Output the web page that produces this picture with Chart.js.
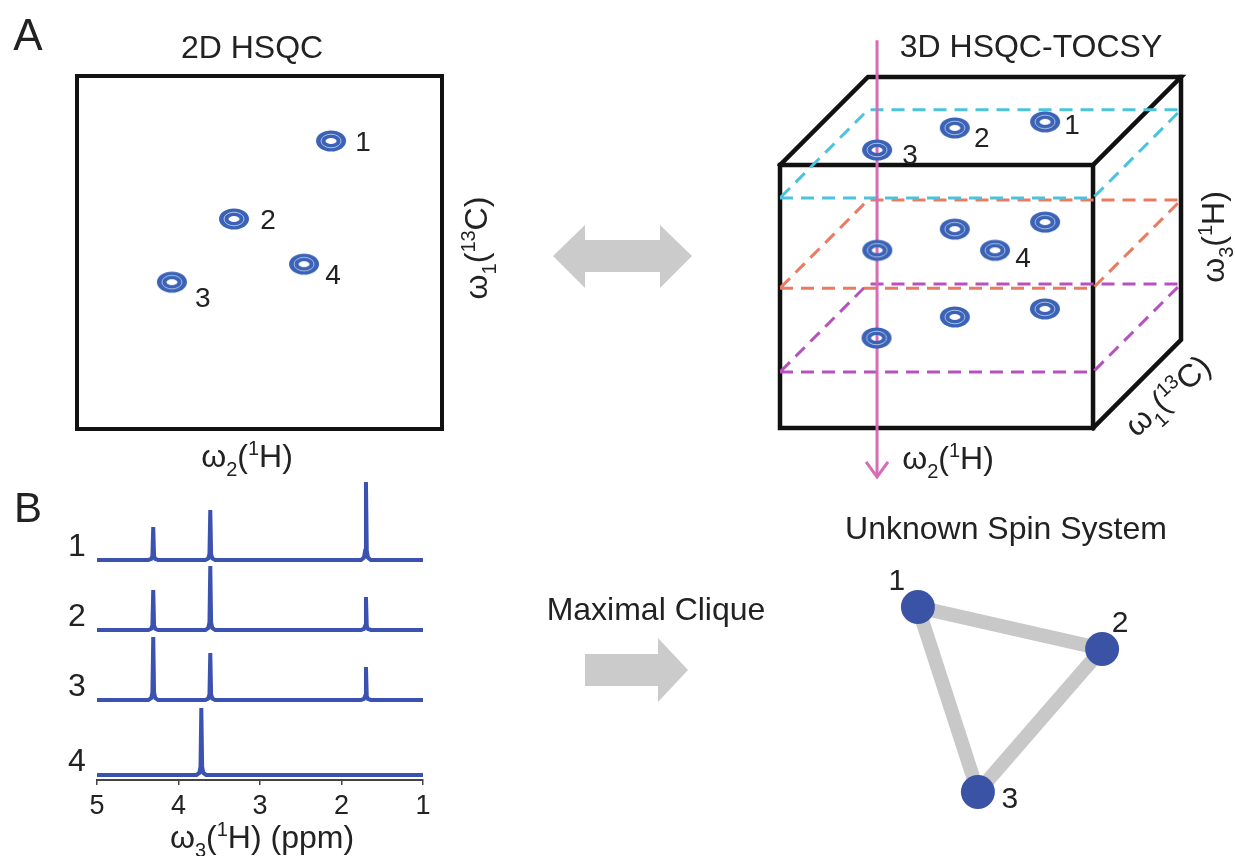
<!DOCTYPE html>
<html>
<head>
<meta charset="utf-8">
<script src="https://cdn.jsdelivr.net/npm/chart.js@4.4.1/dist/chart.umd.min.js"></script>
<style>
  html, body { margin: 0; padding: 0; background: #fff; }
  #page { position: relative; width: 1235px; height: 856px; overflow: hidden; background: #fff; }
  canvas { position: absolute; }
</style>
</head>
<body>
<div id="page">
  <canvas id="hsqc"  width="500" height="480" style="left:0;top:0"></canvas>
  <canvas id="flow"  width="280" height="540" style="left:520px;top:200px"></canvas>
  <canvas id="cube"  width="495" height="500" style="left:740px;top:0"></canvas>
  <canvas id="spec"  width="450" height="386" style="left:0;top:470px"></canvas>
  <canvas id="graph" width="395" height="340" style="left:840px;top:500px"></canvas>
</div>
<script>
var FONT = '"Liberation Sans", Arial, Helvetica, sans-serif';
var INK = '#222';

// ---- panel A, 2D HSQC (relative units, 0-100) ----
var hsqcLabels = ['1', '2', '3', '4'];
var hsqcH = [69.6, 43.0, 26.0, 62.2];
var hsqcC = [81.6, 59.5, 41.6, 46.7];
var hsqcLabelOffsets = [[32, 0], [34, 0], [31, 15], [29, 10]];

// ---- panel A, 3D HSQC-TOCSY (unit cube: w2 across, w1 depth, w3 up) ----
var planeLevels = [0.875, 0.532, 0.213];
var planeColors = ['#4cc3dc', '#ea7a60', '#b651bd'];
var tocsyPlane  = [0, 0, 0, 1, 1, 1, 1, 2, 2, 2];
var tocsyW2     = [0.157, 0.335, 0.604, 0.19, 0.37, 0.636, 0.566, 0.20, 0.383, 0.645];
var tocsyW1     = [0.545, 0.795, 0.864, 0.43, 0.67, 0.75, 0.43, 0.386, 0.625, 0.716];
var tocsyLabels = ['3', '2', '1', '', '', '', '4', '', '', ''];
var tocsyLabelOffsets = {'1': [27, 2], '2': [27, 9], '3': [33, 4], '4': [28, 7]};
var TRACE_X = 0.31, TRACE_TOP = 1.475, TRACE_BOTTOM = -0.186;
var DX = 0.281, DY = 0.335;   // oblique projection of the w1 depth

// ---- panel B, 1D traces ----
var ppmTicks = [5, 4, 3, 2, 1];
var spinNames = ['1', '2', '3', '4'];
var spinOffsets = [22, 15, 8, 0.5];
var spinPeakPpm    = [[4.31, 3.61, 1.70], [4.31, 3.61, 1.70], [4.31, 3.61, 1.70], [3.72]];
var spinPeakHeight = [[3.3, 5.0, 7.8], [4.0, 6.4, 3.3], [6.3, 4.7, 3.3], [6.7]];

// ---- panel B, spin system graph ----
var nodeNames = ['1', '2', '3'];
var nodeX = [1.93, 8.07, 3.93];
var nodeY = [8.19, 6.58, 1.08];
var edges = [[0, 1], [1, 2], [2, 0]];
var nodeLabelOffsets = [[-21, -28], [18, -28], [32, 5]];

// rich text: "ω_{2}(^{1}H)"
function drawRich(ctx, str, cx, cy, size, angle, color) {
  var small = Math.round(size * 0.62);
  var re = /(_|\^)\{([^}]*)\}|([^_^]+)/g, m, segs = [], w = 0;
  ctx.save();
  while ((m = re.exec(str)) !== null) {
    var mode = m[1] === '_' ? 'sub' : (m[1] === '^' ? 'sup' : '');
    var t = mode ? m[2] : m[3];
    var f = (mode ? small : size) + 'px ' + FONT;
    ctx.font = f;
    var sw = ctx.measureText(t).width;
    segs.push({t: t, mode: mode, f: f, sw: sw});
    w += sw;
  }
  ctx.translate(cx, cy);
  ctx.rotate(angle || 0);
  ctx.fillStyle = color || INK;
  ctx.textAlign = 'left';
  ctx.textBaseline = 'alphabetic';
  var x = -w / 2, base = size * 0.36;
  segs.forEach(function (s) {
    ctx.font = s.f;
    var dy = s.mode === 'sub' ? size * 0.3 : (s.mode === 'sup' ? -size * 0.36 : 0);
    ctx.fillText(s.t, x, base + dy);
    x += s.sw;
  });
  ctx.restore();
}

function makeGlyph(color) {
  var c = document.createElement('canvas');
  c.width = 34; c.height = 24;
  var g = c.getContext('2d');
  g.fillStyle = color;
  g.beginPath(); g.ellipse(17, 12, 15, 10.5, 0, 0, 2 * Math.PI); g.fill();
  g.strokeStyle = 'rgba(255,255,255,0.6)';
  g.lineWidth = 1;
  g.beginPath(); g.ellipse(17, 12, 10, 6.8, 0, 0, 2 * Math.PI); g.stroke();
  g.globalCompositeOperation = 'destination-out';
  g.beginPath(); g.ellipse(17, 12, 5.5, 3, 0, 0, 2 * Math.PI); g.fill();
  return c;
}

function textLayer(fn) {
  return { id: 'textLayer', afterDatasetsDraw: function (chart) { fn(chart, chart.ctx); } };
}

function baseOptions(padding) {
  return {
    responsive: false, animation: false, events: [], devicePixelRatio: 1,
    layout: { padding: padding },
    plugins: { legend: { display: false }, tooltip: { enabled: false } }
  };
}

var glyph = makeGlyph('#3a62b6');

// ---------- 2D HSQC ----------
var hsqcOpts = baseOptions({left: 77, top: 76, right: 58, bottom: 51});
hsqcOpts.scales = { x: {display: false, min: 0, max: 100}, y: {display: false, min: 0, max: 100} };
new Chart(document.getElementById('hsqc'), {
  type: 'scatter',
  data: { datasets: [{
    data: hsqcH.map(function (x, i) { return {x: x, y: hsqcC[i]}; }),
    pointStyle: glyph, pointRadius: 15, clip: false
  }] },
  options: hsqcOpts,
  plugins: [{
    id: 'frame',
    beforeDatasetsDraw: function (chart) {
      var a = chart.chartArea, ctx = chart.ctx;
      ctx.save(); ctx.strokeStyle = '#111'; ctx.lineWidth = 4;
      ctx.strokeRect(a.left, a.top, a.right - a.left, a.bottom - a.top);
      ctx.restore();
    }
  }, textLayer(function (chart, ctx) {
    var sx = chart.scales.x, sy = chart.scales.y;
    hsqcLabels.forEach(function (l, i) {
      drawRich(ctx, l, sx.getPixelForValue(hsqcH[i]) + hsqcLabelOffsets[i][0],
        sy.getPixelForValue(hsqcC[i]) + hsqcLabelOffsets[i][1], 28);
    });
    drawRich(ctx, 'A', 28, 34, 44);
    drawRich(ctx, '2D HSQC', 252, 46, 32);
    drawRich(ctx, 'ω_{2}(^{1}H)', 247, 455, 32);
    drawRich(ctx, 'ω_{1}(^{13}C)', 475, 248, 32, -Math.PI / 2);
  })]
});

// ---------- arrows + caption ----------
var flowOpts = baseOptions(0);
flowOpts.scales = { x: {display: false}, y: {display: false} };
new Chart(document.getElementById('flow'), {
  type: 'scatter',
  data: { datasets: [] },
  options: flowOpts,
  plugins: [textLayer(function (chart, ctx) {
    function poly(pts) {
      ctx.beginPath();
      pts.forEach(function (p, i) { if (i) ctx.lineTo(p[0] - 520, p[1] - 200); else ctx.moveTo(p[0] - 520, p[1] - 200); });
      ctx.closePath(); ctx.fill();
    }
    ctx.save();
    ctx.fillStyle = '#cbcbcb';
    poly([[553, 256], [585, 225], [585, 240], [660, 240], [660, 225], [692, 256],
          [660, 288], [660, 272], [585, 272], [585, 288]]);
    poly([[585, 654], [658, 654], [658, 638], [688, 670], [658, 702], [658, 686], [585, 686]]);
    ctx.restore();
    drawRich(ctx, 'Maximal Clique', 136, 408, 32);
  })]
});

// ---------- 3D HSQC-TOCSY ----------
function P(w2, w1, w3) { return {x: w2 + DX * w1, y: w3 + DY * w1}; }
var cubeSets = [];
cubeSets.push({
  data: tocsyW2.map(function (w2, i) { return P(w2, tocsyW1[i], planeLevels[tocsyPlane[i]]); }),
  pointStyle: glyph, pointRadius: 15, showLine: false, clip: false
});
cubeSets.push({
  data: [{x: TRACE_X, y: TRACE_TOP}, {x: TRACE_X, y: TRACE_BOTTOM}],
  showLine: true, borderColor: '#d56db5', borderWidth: 3, pointRadius: 0, clip: false
});
cubeSets.push({
  data: [{x: TRACE_X - 0.035, y: TRACE_BOTTOM + 0.057}, {x: TRACE_X, y: TRACE_BOTTOM}, {x: TRACE_X + 0.035, y: TRACE_BOTTOM + 0.057}],
  showLine: true, borderColor: '#d56db5', borderWidth: 3, pointRadius: 0, clip: false
});
planeLevels.forEach(function (h, k) {
  cubeSets.push({
    data: [P(0, 0, h), P(1, 0, h), P(1, 1, h), P(0, 1, h), P(0, 0, h)],
    showLine: true, borderColor: planeColors[k], borderWidth: 3, borderDash: [13, 8],
    pointRadius: 0, clip: false
  });
});
[
  [P(0, 0, 0), P(1, 0, 0), P(1, 0, 1), P(0, 0, 1), P(0, 0, 0)],
  [P(0, 0, 1), P(0, 1, 1), P(1, 1, 1), P(1, 0, 1)],
  [P(1, 1, 1), P(1, 1, 0), P(1, 0, 0)]
].forEach(function (pts) {
  cubeSets.push({
    data: pts, showLine: true, borderColor: '#111', borderWidth: 4.5,
    borderJoinStyle: 'miter', borderCapStyle: 'square', pointRadius: 0, clip: false
  });
});
var cubeOpts = baseOptions({left: 40, top: 77, right: 54, bottom: 72});
cubeOpts.scales = { x: {display: false, min: 0, max: 1 + DX}, y: {display: false, min: 0, max: 1 + DY} };
new Chart(document.getElementById('cube'), {
  type: 'scatter',
  data: { datasets: cubeSets },
  options: cubeOpts,
  plugins: [textLayer(function (chart, ctx) {
    var sx = chart.scales.x, sy = chart.scales.y;
    tocsyLabels.forEach(function (l, i) {
      if (!l) return;
      var p = P(tocsyW2[i], tocsyW1[i], planeLevels[tocsyPlane[i]]);
      drawRich(ctx, l, sx.getPixelForValue(p.x) + tocsyLabelOffsets[l][0],
        sy.getPixelForValue(p.y) + tocsyLabelOffsets[l][1], 28);
    });
    drawRich(ctx, '3D HSQC-TOCSY', 291, 45, 32);
    drawRich(ctx, 'ω_{2}(^{1}H)', 208, 457, 32);
    drawRich(ctx, 'ω_{3}(^{1}H)', 472, 237, 32, -Math.PI / 2);
    drawRich(ctx, 'ω_{1}(^{13}C)', 427, 395, 32, -42 * Math.PI / 180);
  })]
});

// ---------- 1D traces ----------
var SHAPE_DX = [-0.06, -0.025, -0.01, 0, 0.01, 0.025, 0.06];
var SHAPE_F  = [0, 0.03, 0.12, 1, 0.12, 0.03, 0];
var specSets = spinNames.map(function (name, s) {
  var pts = [{x: 5, y: spinOffsets[s]}];
  var order = spinPeakPpm[s].map(function (p, j) { return j; })
    .sort(function (a, b) { return spinPeakPpm[s][b] - spinPeakPpm[s][a]; });
  order.forEach(function (j) {
    SHAPE_DX.forEach(function (d, k) {
      pts.push({x: spinPeakPpm[s][j] - d, y: spinOffsets[s] + SHAPE_F[k] * spinPeakHeight[s][j]});
    });
  });
  pts.push({x: 1, y: spinOffsets[s]});
  return { label: name, data: pts, borderColor: '#3b52b0', borderWidth: 4,
           pointRadius: 0, tension: 0, clip: false };
});
var specOpts = baseOptions({left: 97, top: 10, right: 27, bottom: 0});
specOpts.scales = {
  x: {
    type: 'linear', min: 1, max: 5, reverse: true,
    afterBuildTicks: function (s) { s.ticks = ppmTicks.map(function (v) { return {value: v}; }); },
    afterFit: function (s) { s.height = 76; },
    ticks: { font: {size: 27, family: FONT}, color: INK, padding: 5, maxRotation: 0 },
    grid: { drawOnChartArea: false, drawTicks: true, tickLength: 5, color: '#444', lineWidth: 1.5 },
    border: { display: true, color: '#444', width: 2 }
  },
  y: { display: false, min: 0, max: 30 }
};
new Chart(document.getElementById('spec'), {
  type: 'line',
  data: { datasets: specSets },
  options: specOpts,
  plugins: [textLayer(function (chart, ctx) {
    var sy = chart.scales.y;
    spinNames.forEach(function (n, s) {
      drawRich(ctx, n, 77, sy.getPixelForValue(spinOffsets[s]) - 16, 32);
    });
    drawRich(ctx, 'B', 28, 37, 42);
    drawRich(ctx, 'ω_{3}(^{1}H) (ppm)', 262, 366, 32);
  })]
});

// ---------- spin system graph ----------
var graphSets = [{
  data: nodeX.map(function (x, i) { return {x: x, y: nodeY[i]}; }),
  pointRadius: 17, backgroundColor: '#3a53a5', borderWidth: 0, showLine: false, clip: false
}];
edges.forEach(function (e) {
  graphSets.push({
    data: [{x: nodeX[e[0]], y: nodeY[e[0]]}, {x: nodeX[e[1]], y: nodeY[e[1]]}],
    showLine: true, borderColor: '#c8c8c8', borderWidth: 14, pointRadius: 0, clip: false
  });
});
var graphOpts = baseOptions({left: 20, top: 60, right: 75, bottom: 20});
graphOpts.scales = { x: {display: false, min: 0, max: 10}, y: {display: false, min: 0, max: 10} };
new Chart(document.getElementById('graph'), {
  type: 'scatter',
  data: { datasets: graphSets },
  options: graphOpts,
  plugins: [textLayer(function (chart, ctx) {
    var sx = chart.scales.x, sy = chart.scales.y;
    nodeNames.forEach(function (n, i) {
      drawRich(ctx, n, sx.getPixelForValue(nodeX[i]) + nodeLabelOffsets[i][0],
        sy.getPixelForValue(nodeY[i]) + nodeLabelOffsets[i][1], 30);
    });
    drawRich(ctx, 'Unknown Spin System', 166, 27, 32);
  })]
});
</script>
</body>
</html>
